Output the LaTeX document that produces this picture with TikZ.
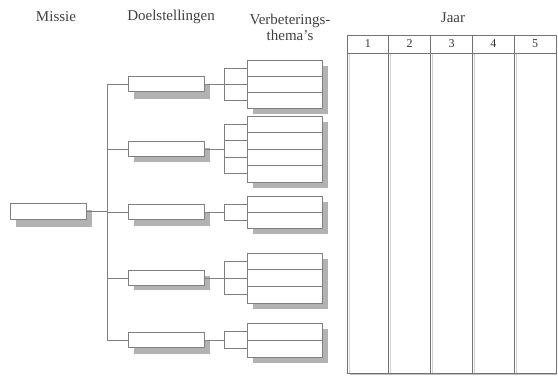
\documentclass[tikz,border=0pt]{standalone}
\usepackage{fontspec}
\setmainfont{Liberation Serif}
\begin{document}
\begin{tikzpicture}[x=1pt,y=-1pt,
  lbl/.style={text=black!75,font=\fontsize{15}{16}\selectfont,inner sep=0},
  box/.style={draw=black!50,line width=0.7pt,fill=white,inner sep=0,minimum width=76pt,minimum height=15.5pt},
  row/.style={draw=black!50,line width=0.7pt,fill=white,inner sep=0,minimum width=75pt},
  shd/.style={fill=black!30,draw=none},
  ln/.style={draw=black!50,line width=0.7pt},
  tab/.style={draw=black!55,line width=0.9pt,inner sep=0,minimum width=41.8pt}]
\useasboundingbox (0,0) rectangle (558,376);
% headers
\node[lbl] (hm) at (56,17) {Missie};
\node[lbl] (hd) at (171,17) {Doelstellingen};
\node[lbl,align=center] (ht) at (290,27) {Verbeterings-\\thema's};
\node[lbl] (hj) at (453,18) {Jaar};
% shadows
\fill[shd] (16,210) rectangle (92,227);
\foreach \y in {85,148,212,276,340}{\fill[shd] (134,\y) rectangle (210,\y+14);}
\fill[shd] (253,66) rectangle (328,114);
\fill[shd] (253,122) rectangle (328,188);
\fill[shd] (253,202) rectangle (328,234);
\fill[shd] (253,259) rectangle (328,309);
\fill[shd] (253,329) rectangle (328,363);
% missie
\node[box] (m) at (48,211.5) {};
% doelstellingen
\node[box] (d1) at (166,84) {};
\node[box] (d2) at (166,149) {};
\node[box] (d3) at (166,212) {};
\node[box] (d4) at (166,278) {};
\node[box] (d5) at (166,340) {};
% thema rows
\foreach \g/\top/\n/\h in {1/60/3/16,2/116/4/16.5,3/196/2/16,4/253/3/16.7,5/323/2/17}{
  \foreach \r in {1,...,\n}{
    \node[row,minimum height=\h pt] (g\g r\r) at (284.5,\top+\h*\r-\h/2) {};
  }
}
% spine
\coordinate (s) at (107,0);
\draw[ln] (m.east) -- (m.east -| s);
\draw[ln] (d1.west) -- (d1.west -| s) -- (d5.west -| s) -- (d5.west);
\foreach \k in {2,3,4}{\draw[ln] (d\k.west) -- (d\k.west -| s);}
% brackets
\coordinate (b) at (224,0);
\foreach \k in {1,...,5}{\draw[ln] (d\k.east) -- (d\k.east -| b);}
\draw[ln] (g1r1.west) -- (g1r1.west -| b) -- (g1r3.west -| b) -- (g1r3.west);
\draw[ln] (g1r2.west) -- (g1r2.west -| b);
\draw[ln] (g2r1.west) -- (g2r1.west -| b) -- (g2r4.west -| b) -- (g2r4.west);
\draw[ln] (g2r2.west) -- (g2r2.west -| b);
\draw[ln] (g2r3.west) -- (g2r3.west -| b);
\draw[ln] (g3r1.west) -- (g3r1.west -| b) -- (g3r2.west -| b) -- (g3r2.west);
\draw[ln] (g4r1.west) -- (g4r1.west -| b) -- (g4r3.west -| b) -- (g4r3.west);
\draw[ln] (g4r2.west) -- (g4r2.west -| b);
\draw[ln] (g5r1.west) -- (g5r1.west -| b) -- (g5r2.west -| b) -- (g5r2.west);
% table shadow
\draw[black!25,line width=1.2pt] (350,374.5) -- (557,374.5);
\foreach \i in {1,...,5}{\draw[black!18,line width=1pt] (347+41.8*\i-41.8+2,54) -- (347+41.8*\i-41.8+2,373);}
% table
\foreach \i in {1,...,5}{
  \node[tab,minimum height=18pt,text=black!80,font=\fontsize{12}{14}\selectfont] (h\i) at (347+41.8*\i-20.9,44) {\i};
  \node[tab,minimum height=320pt] (c\i) at (347+41.8*\i-20.9,213) {};
}
\end{tikzpicture}
\end{document}
